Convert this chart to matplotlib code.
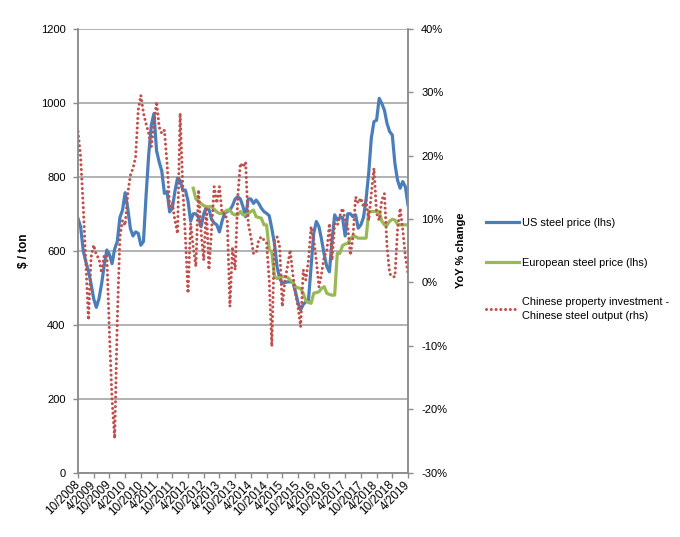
import numpy as np
import matplotlib
matplotlib.use('Agg')
import matplotlib.pyplot as plt
from matplotlib.ticker import FuncFormatter

plt.rcParams['font.family'] = ['Liberation Sans', 'DejaVu Sans']

# ---------------------------- данные ----------------------------
# помесячно, 10/2008 ... 4/2019 (127 месяцев)
tick_labels = ['10/2008', '4/2009', '10/2009', '4/2010', '10/2010', '4/2011',
               '10/2011', '4/2012', '10/2012', '4/2013', '10/2013', '4/2014',
               '10/2014', '4/2015', '10/2015', '4/2016', '10/2016', '4/2017',
               '10/2017', '4/2018', '10/2018', '4/2019']

us_price = [687, 665, 600, 570, 545, 510, 470, 447, 470, 510,
            560, 602, 590, 565, 605, 625, 690, 710, 757, 715,
            660, 640, 651, 647, 615, 625, 750, 860, 940, 971,
            870, 840, 815, 755, 760, 705, 715, 760, 796, 790,
            764, 764, 735, 680, 700, 700, 690, 665, 700, 718,
            712, 685, 675, 670, 651, 680, 702, 706, 710, 722,
            740, 746, 740, 719, 692, 740, 740, 728, 737, 728,
            715, 706, 701, 695, 660, 620, 557, 525, 512, 514,
            516, 516, 516, 490, 460, 440, 455, 462, 467, 557,
            647, 679, 665, 630, 590, 557, 543, 629, 697, 683,
            690, 690, 640, 700, 700, 692, 697, 661, 670, 690,
            740, 810, 905, 949, 953, 1012, 998, 980, 944, 922,
            913, 836, 791, 769, 787, 773, 724]

# европейская цена начинается с 6/2012 (индекс 44)
eu_start = 44
eu_price = [769, 740, 735, 727, 722, 719, 719, 719, 712, 705,
            701, 701, 705, 710, 710, 700, 697, 697, 706, 697,
            697, 700, 706, 710, 692, 690, 688, 670, 670, 602,
            598, 530, 525, 528, 530, 530, 528, 521, 516, 503,
            500, 498, 485, 465, 460, 458, 485, 487, 489, 498,
            503, 485, 482, 480, 480, 593, 593, 614, 618, 620,
            632, 640, 638, 634, 634, 634, 634, 706, 706, 706,
            706, 706, 680, 670, 670, 680, 685, 683, 672, 670,
            670, 670]

cn_gap = [23.8, 19.8, 12, 3, -5.9, 4, 5.9, 4.3, 3.8, 1.5,
          4.3, 4.3, -8, -18.5, -24.6, -6, 7.2, 9.8, 9, 14,
          16.9, 18, 19.8, 27.2, 29.5, 26.7, 25, 23.5, 21.4, 25,
          28.5, 24.5, 23.5, 24, 18.8, 12, 12.5, 9.8, 7.7, 26.7,
          15, 7.2, -1.7, 9.3, 5.6, 2.5, 14.6, 8, 3.5, 11.9,
          2, 8.3, 15.1, 12.5, 15.1, 10.9, 10.9, 9.8, -3.8, 5.6,
          2, 13.5, 18.8, 18.2, 19, 9.3, 7.2, 4.6, 4.6, 6.7,
          7.2, 6.7, 6.2, 0.4, -10.1, 6.7, 7.2, 5.6, -3.8, 0.4,
          2.5, 5.1, 1.4, -1.7, -3.8, -7, 2, 0.4, 3.5, 8.8,
          6.7, 3.5, -0.7, 1.4, 4.1, 5, 9.3, 3.5, 9.3, 9,
          10.5, 11.7, 10, 8.8, 4.3, 7.2, 13.5, 12.5, 13.3, 11.9,
          13, 9.8, 14, 18, 10.9, 9.8, 13, 14, 5.6, 1.4,
          0.9, 0.9, 8.3, 11.7, 8.3, 4.1, 1.4]

labels = ['US steel price (lhs)', 'European steel price (lhs)',
          'Chinese property investment -\nChinese steel output (rhs)']

# ---------------------------- график ----------------------------
x = np.arange(len(us_price))
x_eu = np.arange(eu_start, eu_start + len(eu_price))

fig = plt.figure(figsize=(6.8, 5.37), dpi=100)
ax1 = fig.add_axes([78 / 680, 64.3 / 537, 330 / 680, 443.9 / 537])
ax2 = ax1.twinx()

grey = '#a6a6a6'
spine_c = '#8c8c8c'

l1, = ax1.plot(x, us_price, color='#4a7ebb', lw=2.3, solid_joinstyle='round')
l2, = ax1.plot(x_eu, eu_price, color='#98b954', lw=2.3)
l3, = ax2.plot(x, cn_gap, color='#c0504d', lw=2.2,
               linestyle=(0, (0.01, 1.55)), dash_capstyle='round')

ax1.set_xlim(0, len(us_price) - 1)
ax1.set_ylim(0, 1200)
ax1.set_yticks(range(0, 1201, 200))
ax2.set_ylim(-30, 40)
ax2.set_yticks(range(-30, 41, 10))
ax2.yaxis.set_major_formatter(FuncFormatter(lambda v, p: '%d%%' % v))

ax1.set_xticks(np.arange(0, len(us_price), 6))
ax1.set_xticklabels(tick_labels, rotation=45, ha='right',
                    rotation_mode='anchor', va='center')

ax1.yaxis.grid(True, color=grey, lw=1.2)
ax1.set_axisbelow(True)

for ax in (ax1, ax2):
    ax.spines['top'].set_visible(False)
    for s in ('left', 'right', 'bottom'):
        ax.spines[s].set_color(spine_c)
        ax.spines[s].set_linewidth(1.1)
    ax.tick_params(colors=spine_c, labelcolor='black', labelsize=8,
                   length=3.5, width=1)

ax1.tick_params(axis='y', pad=5.5)
ax1.tick_params(axis='x', pad=4, labelsize=8.5)
ax2.tick_params(axis='y', pad=6)

ax1.set_ylabel('$ / ton', fontsize=8.5, fontweight='bold')
ax1.yaxis.set_label_coords(-0.145, 0.5)
ax2.set_ylabel('YoY % change', fontsize=8, fontweight='bold')
ax2.yaxis.set_label_coords(1.145, 0.5)

leg = fig.legend([l1, l2, l3], labels, loc='upper left',
                 bbox_to_anchor=(476 / 680, 1 - 208 / 537), frameon=False,
                 fontsize=7.9, handlelength=3.0, handletextpad=0.3,
                 labelspacing=2.7)
leg.get_texts()[2].set_linespacing(1.45)

fig.savefig('out.png', dpi=100)
